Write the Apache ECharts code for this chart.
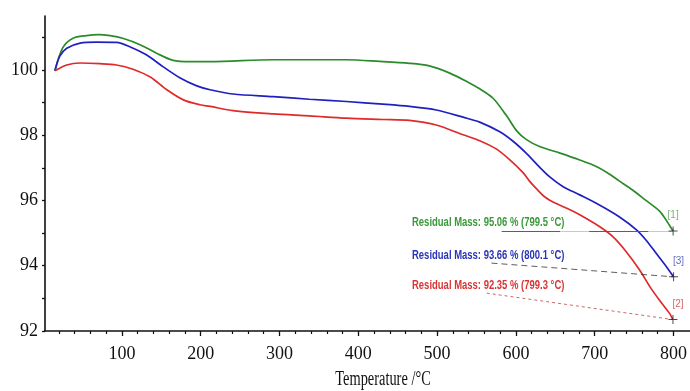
<!DOCTYPE html>
<html>
<head>
<meta charset="utf-8">
<script src="https://cdn.jsdelivr.net/npm/echarts@6/dist/echarts.min.js"></script>
<style>html,body{margin:0;padding:0;background:#fff}#c{width:690px;height:391px}</style>
</head>
<body>
<div id="c"></div>
<script>
// ---- data ----
const greenT = [15, 25, 38, 55, 70, 85, 102, 123, 144, 165, 186, 212, 292, 385, 427, 465, 490, 516, 541, 554, 571, 588, 601, 613, 630, 656, 681, 702, 716, 731, 748, 765, 782, 792, 799.5];
const greenMass = [99.97, 100.68, 100.97, 101.05, 101.08, 101.05, 100.96, 100.77, 100.51, 100.29, 100.25, 100.25, 100.31, 100.31, 100.26, 100.2, 100.12, 99.9, 99.6, 99.42, 99.13, 98.6, 98.13, 97.87, 97.65, 97.45, 97.24, 97.04, 96.85, 96.6, 96.32, 96.0, 95.68, 95.35, 95.06];

const blueT = [15, 21, 30, 47, 68, 93, 110, 131, 152, 174, 195, 212, 241, 292, 338, 385, 431, 465, 499, 533, 554, 579, 596, 613, 630, 643, 660, 681, 706, 731, 753, 765, 778, 791, 800.1];
const blueMass = [99.97, 100.41, 100.66, 100.82, 100.85, 100.84, 100.71, 100.46, 100.1, 99.75, 99.51, 99.39, 99.26, 99.18, 99.1, 99.03, 98.95, 98.88, 98.77, 98.55, 98.4, 98.11, 97.82, 97.45, 97.02, 96.72, 96.42, 96.17, 95.86, 95.5, 95.1, 94.79, 94.38, 93.97, 93.66];

const redT = [15, 30, 47, 72, 93, 114, 136, 157, 178, 199, 212, 241, 292, 338, 385, 431, 465, 499, 533, 554, 575, 592, 609, 617, 626, 636, 647, 668, 681, 706, 723, 740, 757, 770, 782, 795, 799.3];
const redMass = [99.97, 100.15, 100.21, 100.19, 100.15, 100.02, 99.78, 99.39, 99.08, 98.93, 98.88, 98.75, 98.65, 98.59, 98.52, 98.48, 98.45, 98.31, 98.01, 97.83, 97.58, 97.25, 96.85, 96.6, 96.36, 96.12, 95.95, 95.72, 95.56, 95.2, 94.89, 94.43, 93.87, 93.36, 92.95, 92.54, 92.35];

// residual mass results: [temperature, mass, tag]
const residualGreen = [799.5, 95.06, '[1]'];
const residualBlue = [800.1, 93.66, '[3]'];
const residualRed = [799.3, 92.35, '[2]'];
const residualTexts = [
  'Residual Mass: 95.06 % (799.5 °C)',
  'Residual Mass: 93.66 % (800.1 °C)',
  'Residual Mass: 92.35 % (799.3 °C)'
];
// leader line start points (temperature, mass)
const leaderGreenStart = [582, 95.06];
const leaderBlueStart = [569, 94.08];
const leaderRedStart = [563, 93.16];

const xLabels = [100, 200, 300, 400, 500, 600, 700, 800];
const xMinor = [];
for (let t = 20; t <= 800; t += 20) if (t % 100 !== 0) xMinor.push(t);
const yLabels = [92, 94, 96, 98, 100];
const yTicks = [92, 93, 94, 95, 96, 97, 98, 99, 100, 101];

// ---- chart ----
const GREEN = '#2b8a2b', BLUE = '#2020c0', RED = '#e02a2a';
const zip = (a, b) => a.map((v, i) => [v, b[i]]);
const serif = "'Liberation Serif', 'Times New Roman', serif";
const sans = "'Liberation Sans', Arial, sans-serif";

const chart = echarts.init(document.getElementById('c'), null, { renderer: 'canvas' });

function leader(start, end, color, type, width) {
  return [{ coord: [start[0], start[1]] }, { coord: [end[0], end[1]], lineStyle: { color: color, type: type, width: width } }];
}

const option = {
  animation: false,
  backgroundColor: '#fff',
  grid: { left: 45, right: 0, top: 16, bottom: 60 },
  xAxis: [{
    type: 'value', min: 2.4, max: 820.3, position: 'bottom',
    splitLine: { show: false },
    axisLine: { onZero: false, lineStyle: { color: '#111', width: 1.6 } },
    axisTick: { customValues: xLabels, length: 5, lineStyle: { color: '#111', width: 1.3 } },
    axisLabel: { customValues: xLabels, margin: 14, fontFamily: serif, fontSize: 18, color: '#111' }
  }, {
    type: 'value', min: 2.4, max: 820.3, position: 'bottom',
    splitLine: { show: false },
    axisLine: { show: false, onZero: false },
    axisTick: { customValues: xMinor, length: 3, lineStyle: { color: '#111', width: 1.2 } },
    axisLabel: { show: false }
  }],
  yAxis: {
    type: 'value', min: 92, max: 101.65,
    splitLine: { show: false },
    axisLine: { show: true, onZero: false, lineStyle: { color: '#111', width: 1.6 } },
    axisTick: { show: true, customValues: yTicks, length: 3, lineStyle: { color: '#111', width: 1.3 } },
    axisLabel: { customValues: yLabels, margin: 7, fontFamily: serif, fontSize: 18, color: '#111' }
  },
  series: [
    {
      type: 'line', name: 'green', data: zip(greenT, greenMass), smooth: 0.3, showSymbol: false,
      lineStyle: { color: GREEN, width: 1.7 }, z: 3,
      markLine: {
        silent: true, symbol: ['none', 'none'], label: { show: false },
        lineStyle: { color: '#bbb', type: 'solid', width: 0.8 },
        data: [
          leader(leaderGreenStart, residualGreen, '#bbb', 'solid', 0.8),
          leader(leaderGreenStart, [656, 95.06], '#444', 'solid', 0.8),
          leader([693, 95.06], [768, 95.06], '#444', 'solid', 0.8)
        ]
      }
    },
    {
      type: 'line', name: 'blue', data: zip(blueT, blueMass), smooth: 0.3, showSymbol: false,
      lineStyle: { color: BLUE, width: 1.7 }, z: 3,
      markLine: {
        silent: true, symbol: ['none', 'none'], label: { show: false },
        lineStyle: { color: '#333', type: [6, 4], width: 0.8 },
        data: [leader(leaderBlueStart, residualBlue, '#333', [6, 4], 0.8)]
      }
    },
    {
      type: 'line', name: 'red', data: zip(redT, redMass), smooth: 0.3, showSymbol: false,
      lineStyle: { color: RED, width: 1.7 }, z: 3,
      markLine: {
        silent: true, symbol: ['none', 'none'], label: { show: false },
        lineStyle: { color: '#c04040', type: [3, 3], width: 0.8 },
        data: [leader(leaderRedStart, residualRed, '#c04040', [3, 3], 0.8)]
      }
    },
    {
      type: 'scatter', z: 5,
      symbol: 'path://M4,0h1v4h4v1h-4v4h-1v-4h-4v-1h4z', symbolSize: 9,
      itemStyle: { color: '#222' },
      data: [
        { value: residualGreen.slice(0, 2), label: { formatter: residualGreen[2], color: '#5a9a5a', offset: [0, -1] } },
        { value: residualBlue.slice(0, 2), label: { formatter: residualBlue[2], color: '#3a4ab0', offset: [5, -1] } },
        { value: residualRed.slice(0, 2), label: { formatter: residualRed[2], color: '#c84040', offset: [5, -1] } }
      ],
      label: { show: true, position: 'top', fontFamily: sans, fontSize: 10 }
    }
  ],
  graphic: [
    { type: 'text', x: 412, y: 223, scaleX: 0.79, style: { text: residualTexts[0], fill: '#3a9a3a', font: 'bold 12px ' + sans, textVerticalAlign: 'middle' } },
    { type: 'text', x: 412, y: 256, scaleX: 0.79, style: { text: residualTexts[1], fill: '#2a35b5', font: 'bold 12px ' + sans, textVerticalAlign: 'middle' } },
    { type: 'text', x: 412, y: 286, scaleX: 0.79, style: { text: residualTexts[2], fill: '#d83535', font: 'bold 12px ' + sans, textVerticalAlign: 'middle' } },
    { type: 'text', x: 383, y: 380, scaleX: 0.72, style: { text: 'Temperature /°C', fill: '#111', font: '20px ' + serif, textAlign: 'center', textVerticalAlign: 'middle' } }
  ]
};
chart.setOption(option);
</script>
</body>
</html>
